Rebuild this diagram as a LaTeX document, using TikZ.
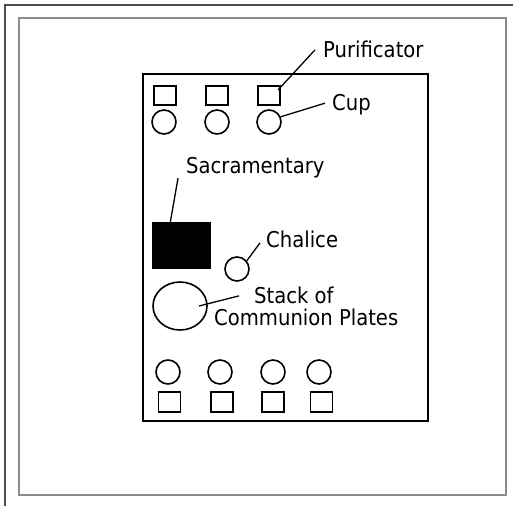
\documentclass[tikz,border=0pt]{standalone}
\usepackage{fontspec}
\setmainfont{DejaVu Sans Condensed}
\usetikzlibrary{calc,shapes.geometric}

\tikzset{
    kasten/.style={draw, line width=1.6pt, minimum width=22pt, minimum height=19pt, inner sep=0pt},
    becher/.style={draw, circle, line width=1.6pt, minimum size=24pt, inner sep=0pt},
    beschr/.style={inner sep=0pt, anchor=base west, font=\fontsize{21.8}{23}\selectfont},
    zeiger/.style={line width=1.3pt},
}

\begin{document}
\begin{tikzpicture}[x=1pt, y=-1pt]
            \useasboundingbox (0,0) rectangle (513,506);
            % Rahmen:
            \draw[line width=1.2pt, black!70] (5,506) -- (5,5) -- (513,5);
            \draw[line width=1.5pt, black!45] (19,18) rectangle (506,495);
            % Tisch:
            \draw[line width=2pt] (143,74) rectangle (428,421);
            % obere Reihe:
            \node[kasten] (pur1) at (165,95.5) {};
            \node[kasten] (pur2) at (217,95.5) {};
            \node[kasten] (pur3) at (269,95.5) {};
            \node[becher] (cup1) at (164,122) {};
            \node[becher] (cup2) at (217,122) {};
            \node[becher] (cup3) at (269,122) {};
            % Mitte:
            \node[draw, fill=black, line width=1.4pt, minimum width=57pt, minimum height=45pt,
                inner sep=0pt] (sacr) at (181.5,245.5) {};
            \node[becher] (chal) at (237,269) {};
            \node[draw, ellipse, line width=1.6pt, minimum width=54pt, minimum height=48pt,
                inner sep=0pt] (plates) at (180,306) {};
            % untere Reihe:
            \node[becher] (cup4) at (168,372) {};
            \node[becher] (cup5) at (220,372) {};
            \node[becher] (cup6) at (273,372) {};
            \node[becher] (cup7) at (319,372) {};
            \node[kasten, minimum height=20pt] (pur4) at (169.5,402) {};
            \node[kasten, minimum height=20pt] (pur5) at (222,402) {};
            \node[kasten, minimum height=20pt] (pur6) at (273,402) {};
            \node[kasten, minimum height=20pt] (pur7) at (321.5,402) {};
            % Beschriftungen:
            \node[beschr] (purtext) at (323,57) {Purificator};
            \node[beschr] (cuptext) at (332,110) {Cup};
            \node[beschr] (sacrtext) at (186,173) {Sacramentary};
            \node[beschr] (chaltext) at (266,247) {Chalice};
            \node[beschr] (stacktext) at (254,303) {Stack of};
            \node[beschr] (platetext) at (214,325) {Communion Plates};
            % Zeiger:
            \draw[zeiger] ($(purtext.west)+(-8,1)$) -- ($(pur3.center)+(9,-5.5)$);
            \draw[zeiger] ($(cuptext.west)+(-7,-1)$) -- (cup3.24);
            \draw[zeiger] ($(sacrtext.west)+(-8,11)$) -- ($(sacr.north west)+(18,0)$);
            \draw[zeiger] ($(chaltext.west)+(-6,4)$) -- (chal.40);
            \draw[zeiger] ($(stacktext.west)+(-15,1)$) -- ($(plates.center)+(19,0)$);
\end{tikzpicture}
\end{document}
